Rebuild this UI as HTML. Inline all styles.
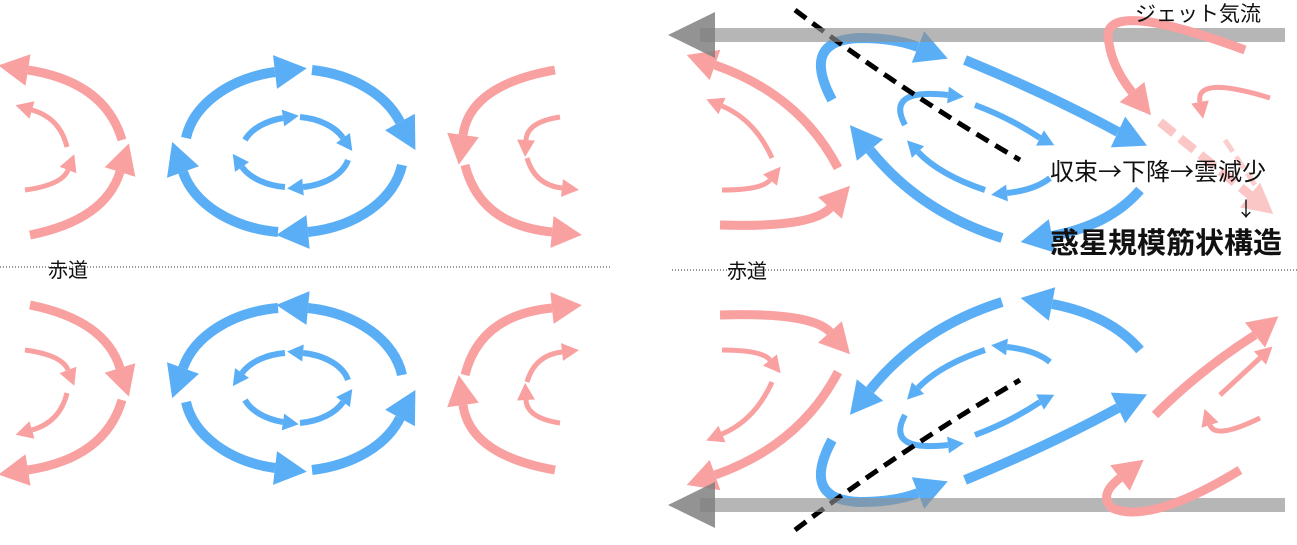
<!DOCTYPE html>
<html><head><meta charset="utf-8"><style>
html,body{margin:0;padding:0;background:#fff;}
svg{display:block;}
</style></head><body>
<svg width="1297" height="545" viewBox="0 0 1297 545" xmlns="http://www.w3.org/2000/svg">
<g>
 <g fill="none" stroke="#f9a0a0">
  <path d="M122,140 Q105,82 28,70" stroke-width="9"/>
  <path d="M30,235 Q105,220 120,172" stroke-width="9"/>
  <path d="M67,147 Q60,118 32,110" stroke-width="5"/>
  <path d="M25,190 Q62,185 68,170" stroke-width="5"/>
  <path d="M555,70 Q470,85 463,135" stroke-width="9"/>
  <path d="M465,165 Q480,225 552,232" stroke-width="9"/>
  <path d="M560,117 Q527,122 526,140" stroke-width="5"/>
  <path d="M527,158 Q535,185 562,188" stroke-width="5"/>
 </g>
 <g fill="#f9a0a0">
  <polygon points="-1.6,65.4 30.5,54.2 25.5,85.8"/>
  <polygon points="128.9,143.4 135.3,176.8 104.7,167.2"/>
  <polygon points="15.6,105.3 34.5,101.3 29.5,118.7"/>
  <polygon points="74.3,154.2 76.4,173.3 59.6,166.7"/>
  <polygon points="458.8,164.7 447.2,132.8 478.8,137.2"/>
  <polygon points="581.9,234.9 550.4,247.9 553.6,216.1"/>
  <polygon points="525.1,157 517,139.5 535,140.5"/>
  <polygon points="578.9,189.9 561,196.9 563,179.1"/>
 </g>
 <g fill="none" stroke="#5aaef5">
  <path d="M186,138 A112,80 0 0 1 275,72" stroke-width="10"/>
  <path d="M312,70 A112,80 0 0 1 400,122" stroke-width="10"/>
  <path d="M402,165 A112,80 0 0 1 308,232" stroke-width="10"/>
  <path d="M278,232 A112,80 0 0 1 183,172" stroke-width="10"/>
  <path d="M245,140 A55,35 0 0 1 283,118" stroke-width="6"/>
  <path d="M300,117 A55,35 0 0 1 343,138" stroke-width="6"/>
  <path d="M348,160 A55,35 0 0 1 303,187" stroke-width="6"/>
  <path d="M285,187 A55,35 0 0 1 242,167" stroke-width="6"/>
 </g>
 <g fill="#5aaef5">
  <polygon points="306.8,68.3 277,88.9 273,55.1"/>
  <polygon points="415.4,150 385.1,130.2 414.9,113.8"/>
  <polygon points="276.2,235 306.4,215.1 309.6,248.9"/>
  <polygon points="172.2,141.9 199,166.3 167,177.7"/>
  <polygon points="298.8,115.7 284.2,126.4 281.8,109.6"/>
  <polygon points="352.3,151 336.1,143 349.9,133"/>
  <polygon points="287.1,188.5 302.2,178.5 303.8,195.5"/>
  <polygon points="232.8,153.9 249,162.1 235,171.9"/>
 </g>
</g>
<g transform="matrix(1 0 0 -1 0 540)">
 <g fill="none" stroke="#f9a0a0">
  <path d="M122,140 Q105,82 28,70" stroke-width="9"/>
  <path d="M30,235 Q105,220 120,172" stroke-width="9"/>
  <path d="M67,147 Q60,118 32,110" stroke-width="5"/>
  <path d="M25,190 Q62,185 68,170" stroke-width="5"/>
  <path d="M555,70 Q470,85 463,135" stroke-width="9"/>
  <path d="M465,165 Q480,225 552,232" stroke-width="9"/>
  <path d="M560,117 Q527,122 526,140" stroke-width="5"/>
  <path d="M527,158 Q535,185 562,188" stroke-width="5"/>
 </g>
 <g fill="#f9a0a0">
  <polygon points="-1.6,65.4 30.5,54.2 25.5,85.8"/>
  <polygon points="128.9,143.4 135.3,176.8 104.7,167.2"/>
  <polygon points="15.6,105.3 34.5,101.3 29.5,118.7"/>
  <polygon points="74.3,154.2 76.4,173.3 59.6,166.7"/>
  <polygon points="458.8,164.7 447.2,132.8 478.8,137.2"/>
  <polygon points="581.9,234.9 550.4,247.9 553.6,216.1"/>
  <polygon points="525.1,157 517,139.5 535,140.5"/>
  <polygon points="578.9,189.9 561,196.9 563,179.1"/>
 </g>
 <g fill="none" stroke="#5aaef5">
  <path d="M186,138 A112,80 0 0 1 275,72" stroke-width="10"/>
  <path d="M312,70 A112,80 0 0 1 400,122" stroke-width="10"/>
  <path d="M402,165 A112,80 0 0 1 308,232" stroke-width="10"/>
  <path d="M278,232 A112,80 0 0 1 183,172" stroke-width="10"/>
  <path d="M245,140 A55,35 0 0 1 283,118" stroke-width="6"/>
  <path d="M300,117 A55,35 0 0 1 343,138" stroke-width="6"/>
  <path d="M348,160 A55,35 0 0 1 303,187" stroke-width="6"/>
  <path d="M285,187 A55,35 0 0 1 242,167" stroke-width="6"/>
 </g>
 <g fill="#5aaef5">
  <polygon points="306.8,68.3 277,88.9 273,55.1"/>
  <polygon points="415.4,150 385.1,130.2 414.9,113.8"/>
  <polygon points="276.2,235 306.4,215.1 309.6,248.9"/>
  <polygon points="172.2,141.9 199,166.3 167,177.7"/>
  <polygon points="298.8,115.7 284.2,126.4 281.8,109.6"/>
  <polygon points="352.3,151 336.1,143 349.9,133"/>
  <polygon points="287.1,188.5 302.2,178.5 303.8,195.5"/>
  <polygon points="232.8,153.9 249,162.1 235,171.9"/>
 </g>
</g>

<g>
 <g fill="none" stroke="#f9a0a0">
  <path d="M838,168 Q800,95 715,65" stroke-width="9"/>
  <path d="M720,225 Q812,228 830,208" stroke-width="9"/>
  <path d="M772,158 Q755,120 722,106" stroke-width="5"/>
  <path d="M722,190 Q762,190 770,180" stroke-width="5"/>
 </g>
 <g fill="#f9a0a0">
  <polygon points="686.7,55 720.3,49.9 709.7,80.1"/>
  <polygon points="850,185.7 841.9,218.7 818.1,197.3"/>
  <polygon points="706.3,99.4 725.5,97.7 718.5,114.3"/>
  <polygon points="780.6,166.7 777,185.6 763,174.4"/>
 </g>
 <g fill="none" stroke="#5aaef5">
  <path d="M832,100 Q800,40 860,38 Q895,38 918,47" stroke-width="10"/>
  <path d="M965,60 Q1050,95 1118,132" stroke-width="10"/>
  <path d="M1140,190 Q1110,225 1052,236" stroke-width="10"/>
  <path d="M1002,238 Q920,212 870,150" stroke-width="10"/>
  <path d="M905,125 Q885,88 948,95" stroke-width="6"/>
  <path d="M975,105 Q1010,118 1040,138" stroke-width="6"/>
  <path d="M1050,178 Q1035,190 1007,193" stroke-width="6"/>
  <path d="M985,190 Q940,175 918,152" stroke-width="6"/>
 </g>
 <g fill="#5aaef5">
  <polygon points="947.8,58.6 911.8,62.8 924.2,31.2"/>
  <polygon points="1147,145.6 1110.8,147.4 1125.2,116.6"/>
  <polygon points="1020.6,242 1048.8,219.3 1055.2,252.7"/>
  <polygon points="849.9,125.1 883.2,139.3 856.8,160.7"/>
  <polygon points="963.9,96.8 947.1,103.4 948.9,86.6"/>
  <polygon points="1054.3,145.2 1036.1,145.6 1043.9,130.4"/>
  <polygon points="991.1,194.7 1006.1,184.6 1007.9,201.4"/>
  <polygon points="907,140.4 924.1,146.1 911.9,157.9"/>
 </g>
 <path d="M795,10 Q900,90 1020,160" fill="none" stroke="#000" stroke-width="5" stroke-dasharray="14 8"/>
 <rect x="700" y="28" width="585" height="14" fill="#8f8f8f" opacity="0.65"/>
 <polygon points="668,35 715,12 715,58" fill="#808080" opacity="0.85"/>
</g>
<g transform="matrix(1 0 0 -1 0 540)">
 <g fill="none" stroke="#f9a0a0">
  <path d="M838,168 Q800,95 715,65" stroke-width="9"/>
  <path d="M720,225 Q812,228 830,208" stroke-width="9"/>
  <path d="M772,158 Q755,120 722,106" stroke-width="5"/>
  <path d="M722,190 Q762,190 770,180" stroke-width="5"/>
 </g>
 <g fill="#f9a0a0">
  <polygon points="686.7,55 720.3,49.9 709.7,80.1"/>
  <polygon points="850,185.7 841.9,218.7 818.1,197.3"/>
  <polygon points="706.3,99.4 725.5,97.7 718.5,114.3"/>
  <polygon points="780.6,166.7 777,185.6 763,174.4"/>
 </g>
 <g fill="none" stroke="#5aaef5">
  <path d="M832,100 Q800,40 860,38 Q895,38 918,47" stroke-width="10"/>
  <path d="M965,60 Q1050,95 1118,132" stroke-width="10"/>
  <path d="M1140,190 Q1110,225 1052,236" stroke-width="10"/>
  <path d="M1002,238 Q920,212 870,150" stroke-width="10"/>
  <path d="M905,125 Q885,88 948,95" stroke-width="6"/>
  <path d="M975,105 Q1010,118 1040,138" stroke-width="6"/>
  <path d="M1050,178 Q1035,190 1007,193" stroke-width="6"/>
  <path d="M985,190 Q940,175 918,152" stroke-width="6"/>
 </g>
 <g fill="#5aaef5">
  <polygon points="947.8,58.6 911.8,62.8 924.2,31.2"/>
  <polygon points="1147,145.6 1110.8,147.4 1125.2,116.6"/>
  <polygon points="1020.6,242 1048.8,219.3 1055.2,252.7"/>
  <polygon points="849.9,125.1 883.2,139.3 856.8,160.7"/>
  <polygon points="963.9,96.8 947.1,103.4 948.9,86.6"/>
  <polygon points="1054.3,145.2 1036.1,145.6 1043.9,130.4"/>
  <polygon points="991.1,194.7 1006.1,184.6 1007.9,201.4"/>
  <polygon points="907,140.4 924.1,146.1 911.9,157.9"/>
 </g>
 <path d="M795,10 Q900,90 1020,160" fill="none" stroke="#000" stroke-width="5" stroke-dasharray="14 8"/>
 <rect x="700" y="28" width="585" height="14" fill="#8f8f8f" opacity="0.65"/>
 <polygon points="668,35 715,12 715,58" fill="#808080" opacity="0.85"/>
</g>

<g fill="none" stroke="#f9a0a0">
 <path d="M1245,50 Q1110,0 1108,35 Q1110,65 1132,92" stroke-width="9"/>
 <path d="M1160,122 L1250,195" stroke-width="9" stroke-dasharray="18 8" opacity="0.6"/>
 <path d="M1270,98 Q1195,75 1200,102" stroke-width="5"/>
 <path d="M1225,140 L1255,185" stroke-width="5" stroke-dasharray="14 6" opacity="0.5"/>
 <path d="M1155,415 Q1200,370 1255,335" stroke-width="9"/>
 <path d="M1240,470 Q1150,525 1112,508 Q1098,495 1120,478" stroke-width="9"/>
 <path d="M1220,395 L1260,358" stroke-width="5"/>
 <path d="M1260,418 Q1215,440 1210,425" stroke-width="5"/>
</g>
<g fill="#f9a0a0">
 <polygon points="1151,115.3 1119.6,102.1 1144.4,81.9"/>
 <polygon points="1273.3,213.9 1239.9,207.4 1260.1,182.6" opacity="0.6"/>
 <polygon points="1203.1,118.7 1191.2,103.6 1208.8,100.4"/>
 <polygon points="1278.4,316.3 1265,347.5 1245,322.5"/>
 <polygon points="1143.7,459.7 1129.8,490.7 1110.2,465.3"/>
 <polygon points="1272.5,346.5 1266.1,364.6 1253.9,351.4"/>
 <polygon points="1204.6,408.9 1218.5,422.2 1201.5,427.8"/>
</g>

<line x1="0" y1="267" x2="610" y2="267" stroke="#333" stroke-width="1" stroke-dasharray="1 2"/>
<line x1="672" y1="270" x2="1297" y2="270" stroke="#333" stroke-width="1" stroke-dasharray="1 2"/>
<g font-family="Liberation Sans, Noto Sans CJK JP, sans-serif" fill="#111">
<text x="48" y="277" font-size="20">赤道</text>
<text x="727" y="278" font-size="20">赤道</text>
<text x="1135" y="21" font-size="21">ジェット気流</text>
<text x="1050" y="180" font-size="24" font-family="Noto Sans CJK JP, sans-serif">収束→下降→雲減少</text>
<text x="1236" y="216" font-size="20" font-family="Noto Sans CJK JP, sans-serif">↓</text>
<text x="1050" y="253" font-size="29" font-weight="bold">惑星規模筋状構造</text>
</g>
</svg>
</body></html>
